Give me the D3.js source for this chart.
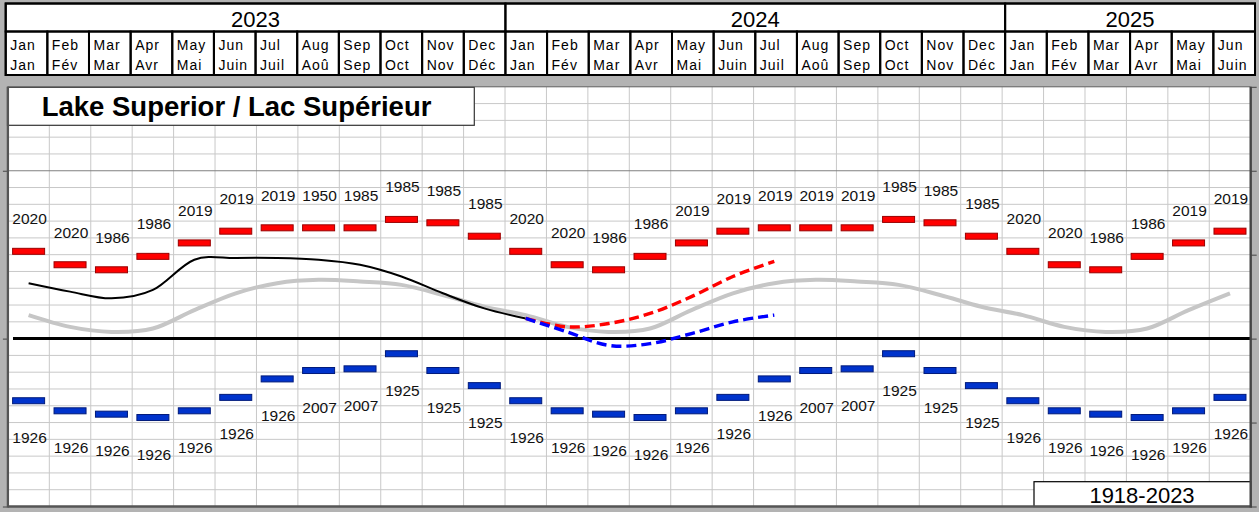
<!DOCTYPE html>
<html><head><meta charset="utf-8">
<script src="https://cdn.jsdelivr.net/npm/d3@7"></script>
<style>
html,body{margin:0;padding:0;background:#b3b3b3;}
svg{display:block;}
text{font-family:"Liberation Sans",Arial,sans-serif;}
</style>
</head><body>
<svg id="c" width="1259" height="512"></svg>
<script>
// ---------- data ----------
const title = "Lake Superior / Lac Supérieur";
const periodLabel = "1918-2023";
const monthsEn = ["Jan","Feb","Mar","Apr","May","Jun","Jul","Aug","Sep","Oct","Nov","Dec"];
const monthsFr = ["Jan","Fév","Mar","Avr","Mai","Juin","Juil","Aoû","Sep","Oct","Nov","Déc"];
const yearLabels = ["2023","2024","2025"];
const yearMonthCounts = [12,12,6];
const chartDatum = 183.2;
// monthly long-term average, record max, record min (m, IGLD 1985)
const ltaMonthly = [183.34,183.27,183.24,183.26,183.37,183.47,183.53,183.55,183.54,183.52,183.46,183.39];
const maxMonthly = [183.72,183.64,183.61,183.69,183.77,183.84,183.86,183.86,183.86,183.91,183.89,183.81];
const minMonthly = [182.83,182.77,182.75,182.73,182.77,182.85,182.96,183.01,183.02,183.11,183.01,182.92];
const maxYears = ["2020","2020","1986","1986","2019","2019","2019","1950","1985","1985","1985","1985",
                  "2020","2020","1986","1986","2019","2019","2019","2019","2019","1985","1985","1985",
                  "2020","2020","1986","1986","2019","2019"];
const minYears = ["1926","1926","1926","1926","1926","1926","1926","2007","2007","1925","1925","1925",
                  "1926","1926","1926","1926","1926","1926","1926","2007","2007","1925","1925","1925",
                  "1926","1926","1926","1926","1926","1926"];
// recorded Jan 2023 .. Jan 2024
const recorded = [183.53,183.48,183.44,183.49,183.67,183.68,183.68,183.67,183.64,183.57,183.47,183.38,183.32];
// forecast Jan 2024 .. Jul 2024
const forecastStart = 12;
const forecastHigh = [183.32,183.27,183.29,183.35,183.45,183.57,183.66];
const forecastLow  = [183.32,183.24,183.16,183.17,183.23,183.30,183.34];
const leftTicks = [182.2,183.2,184.2];
const rightTicks = [182.2,182.7,183.2,183.7,184.2,184.7];

// ---------- layout ----------
const svg = d3.select("#c");
const nMonths = d3.sum(yearMonthCounts);
const idx = d3.range(nMonths);
const xh = d3.scaleBand().domain(idx).range([5.7,1255]);
const x = d3.scaleBand().domain(idx).range([7.9,1250.7]);
const y = d3.scaleLinear().domain([182.2,184.7]).range([506.5,86.8]);
const cx = i => x(i) + x.bandwidth()/2;
const PL = 7.9, PR = 1250.7, PT = 86.8, PB = 506.5;

// ---------- header ----------
const hdr = svg.append("g");
hdr.append("rect").attr("x",5.7).attr("y",3.5).attr("width",1255-5.7).attr("height",71.5)
  .attr("fill","#fff").attr("stroke","#000").attr("stroke-width",2);
let start = 0;
yearLabels.forEach((yl,k)=>{
  const n = yearMonthCounts[k];
  const x0 = xh(start), x1 = xh(start+n-1)+xh.bandwidth();
  hdr.append("rect").attr("x",x0).attr("y",3.5).attr("width",x1-x0).attr("height",28)
    .attr("fill","none").attr("stroke","#000").attr("stroke-width",2);
  hdr.append("text").attr("x",(x0+x1)/2).attr("y",26.5).attr("text-anchor","middle")
    .attr("font-size",22).attr("fill","#000").text(yl);
  start += n;
});
idx.forEach(i=>{
  hdr.append("rect").attr("x",xh(i)).attr("y",31.5).attr("width",xh.bandwidth()).attr("height",43.5)
    .attr("fill","none").attr("stroke","#000").attr("stroke-width",2);
  hdr.append("text").attr("x",xh(i)+4.5).attr("y",49.5).attr("font-size",14).attr("letter-spacing",1)
    .attr("fill","#000").text(monthsEn[i%12]);
  hdr.append("text").attr("x",xh(i)+4.5).attr("y",70).attr("font-size",14).attr("letter-spacing",1)
    .attr("fill","#000").text(monthsFr[i%12]);
});

// ---------- plot ----------
svg.append("defs").append("clipPath").attr("id","pc").append("rect")
  .attr("x",PL).attr("y",PT).attr("width",PR-PL).attr("height",PB-PT);
svg.append("rect").attr("x",PL).attr("y",PT).attr("width",PR-PL).attr("height",PB-PT).attr("fill","#fff");

const grid = svg.append("g");
const hVals = d3.range(1,25).map(k=>+(182.2+k*0.1).toFixed(2)).filter(v=>v!==183.2 && v!==184.2);
grid.selectAll("line.h").data(hVals).join("line")
  .attr("x1",PL).attr("x2",PR).attr("y1",d=>y(d)).attr("y2",d=>y(d))
  .attr("stroke","#c8c8c8").attr("stroke-width",1);
grid.selectAll("line.v").data(d3.range(1,nMonths)).join("line")
  .attr("x1",d=>x(d)).attr("x2",d=>x(d)).attr("y1",PT).attr("y2",PB)
  .attr("stroke","#c8c8c8").attr("stroke-width",1);
grid.append("line").attr("x1",PL).attr("x2",PR).attr("y1",y(184.2)).attr("y2",y(184.2))
  .attr("stroke","#808080").attr("stroke-width",1.2);

// ticks
const la = svg.append("g").attr("transform",`translate(${PL},0)`)
  .call(d3.axisLeft(y).tickValues(leftTicks).tickSize(5).tickFormat(""));
la.select(".domain").remove();
la.selectAll("line").attr("stroke","#444");
const ra = svg.append("g").attr("transform",`translate(${PR},0)`)
  .call(d3.axisRight(y).tickValues(rightTicks).tickSize(6).tickFormat(""));
ra.select(".domain").remove();
ra.selectAll("line").attr("stroke","#444");

// title box
svg.append("rect").attr("x",7.5).attr("y",87.3).attr("width",466.8).attr("height",38)
  .attr("fill","#fff").attr("stroke","#333").attr("stroke-width",1.2);
svg.append("text").attr("x",41.7).attr("y",116).attr("font-size",27.5).attr("font-weight","bold")
  .attr("fill","#000").text(title);

// chart datum line
svg.append("line").attr("x1",13).attr("x2",PR).attr("y1",y(chartDatum)).attr("y2",y(chartDatum))
  .attr("stroke","#000").attr("stroke-width",3);

const curve = d3.curveCardinal.tension(0);
const lineGen = d3.line().x(d=>cx(d.i)).y(d=>y(d.v)).curve(curve);
const plot = svg.append("g").attr("clip-path","url(#pc)");

// long-term average
plot.append("path").datum(idx.map(i=>({i,v:ltaMonthly[i%12]})))
  .attr("d",lineGen).attr("fill","none").attr("stroke","#c6c6c6").attr("stroke-width",4);
// recorded
plot.append("path").datum(recorded.map((v,i)=>({i,v})))
  .attr("d",lineGen).attr("fill","none").attr("stroke","#000").attr("stroke-width",2);
// forecasts
plot.append("path").datum(forecastHigh.map((v,k)=>({i:forecastStart+k,v})))
  .attr("d",lineGen).attr("fill","none").attr("stroke","#ff0000").attr("stroke-width",3.4)
  .attr("stroke-dasharray","10,5");
plot.append("path").datum(forecastLow.map((v,k)=>({i:forecastStart+k,v})))
  .attr("d",lineGen).attr("fill","none").attr("stroke","#0000ff").attr("stroke-width",3.4)
  .attr("stroke-dasharray","10,5");

// record bars
const bw = 32, bh = 6;
plot.selectAll("rect.max").data(idx).join("rect")
  .attr("x",i=>cx(i)-bw/2).attr("y",i=>y(maxMonthly[i%12])-bh/2).attr("width",bw).attr("height",bh)
  .attr("fill","#ff0000").attr("stroke","#9a0000").attr("stroke-width",1);
plot.selectAll("rect.min").data(idx).join("rect")
  .attr("x",i=>cx(i)-bw/2).attr("y",i=>y(minMonthly[i%12])-bh/2).attr("width",bw).attr("height",bh)
  .attr("fill","#0033cc").attr("stroke","#001a7a").attr("stroke-width",1);
plot.selectAll("text.max").data(idx).join("text")
  .attr("x",i=>cx(i)+1).attr("y",i=>y(maxMonthly[i%12])-27).attr("text-anchor","middle")
  .attr("font-size",15.5).attr("fill","#111").text(i=>maxYears[i]);
plot.selectAll("text.min").data(idx).join("text")
  .attr("x",i=>cx(i)+1).attr("y",i=>y(minMonthly[i%12])+42).attr("text-anchor","middle")
  .attr("font-size",15.5).attr("fill","#111").text(i=>minYears[i]);

// period box
svg.append("rect").attr("x",1034).attr("y",481.7).attr("width",PR-1034).attr("height",PB-481.7)
  .attr("fill","#fff").attr("stroke","#000").attr("stroke-width",1.2);
svg.append("text").attr("x",1142).attr("y",503).attr("text-anchor","middle")
  .attr("font-size",22).attr("fill","#000").text(periodLabel);

// frame
svg.append("line").attr("x1",PL).attr("x2",PR).attr("y1",PT).attr("y2",PT).attr("stroke","#606060").attr("stroke-width",1);
svg.append("line").attr("x1",PL).attr("x2",PL).attr("y1",PT).attr("y2",PB+1).attr("stroke","#555").attr("stroke-width",2.3);
svg.append("line").attr("x1",PL).attr("x2",PR+1.2).attr("y1",PB).attr("y2",PB).attr("stroke","#555").attr("stroke-width",2.3);
svg.append("line").attr("x1",PR).attr("x2",PR).attr("y1",PT).attr("y2",PB+1).attr("stroke","#444").attr("stroke-width",2.4);
</script>
</body></html>
